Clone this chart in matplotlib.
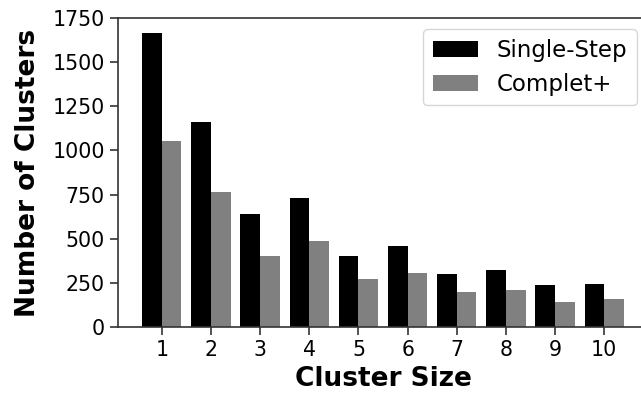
import matplotlib
matplotlib.use("Agg")
import matplotlib.pyplot as plt
import numpy as np

sizes = [1, 2, 3, 4, 5, 6, 7, 8, 9, 10]
single_step = [1665, 1161, 640, 730, 402, 459, 300, 323, 238, 243]
complet_plus = [1053, 764, 402, 487, 272, 306, 198, 210, 142, 159]

fig = plt.figure(figsize=(6.41, 3.96), dpi=100)
ax = fig.add_axes([118/641, 69/396, 530/641, 309/396])

x = np.array(sizes)
w = 0.4
ax.bar(x - w/2, single_step, w, color="black", label="Single-Step")
ax.bar(x + w/2, complet_plus, w, color="gray", label="Complet+")

ax.set_ylim(0, 1750)
ax.set_yticks(np.arange(0, 1751, 250))
ax.set_xticks(x)
ax.tick_params(labelsize=14.8, length=6, width=1.2, color="#333333")
for s in ax.spines.values():
    s.set_color("#333333")
    s.set_linewidth(1.2)

ax.set_xlabel("Cluster Size", fontsize=19, fontweight="bold", labelpad=4)
ax.set_ylabel("Number of Clusters", fontsize=19, fontweight="bold", labelpad=8)
ax.legend(loc="upper right", fontsize=16.5)

fig.savefig("out.png", dpi=100)
